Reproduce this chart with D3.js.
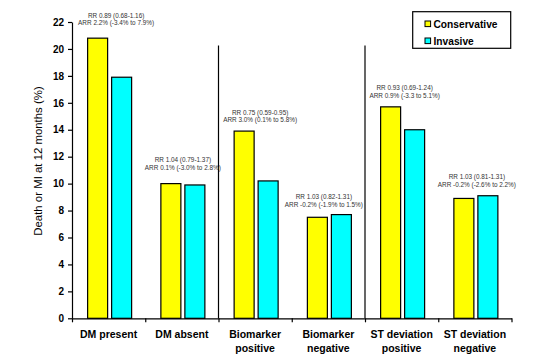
<!DOCTYPE html>
<html>
<head>
<meta charset="utf-8">
<script src="https://cdn.jsdelivr.net/npm/d3@7"></script>
<style>
  html, body { margin: 0; padding: 0; background: #fff; }
  svg { display: block; font-family: "Liberation Sans", Arial, sans-serif; }
</style>
</head>
<body>
<svg id="chart" width="543" height="360"></svg>
<script>
// ---- data ----
const categories = [
  ["DM present"],
  ["DM absent"],
  ["Biomarker", "positive"],
  ["Biomarker", "negative"],
  ["ST deviation", "positive"],
  ["ST deviation", "negative"]
];
const seriesNames = ["Conservative", "Invasive"];
const conservative = [20.8, 10.0, 13.9, 7.5, 15.7, 8.9];
const invasive = [17.9, 9.9, 10.2, 7.7, 14.0, 9.1];
const rrLabels = [
  "RR 0.89 (0.68-1.16)",
  "RR 1.04 (0.79-1.37)",
  "RR 0.75 (0.59-0.95)",
  "RR 1.03 (0.82-1.31)",
  "RR 0.93 (0.69-1.24)",
  "RR 1.03 (0.81-1.31)"
];
const arrLabels = [
  "ARR 2.2% (-3.4% to 7.9%)",
  "ARR 0.1% (-3.0% to 2.8%)",
  "ARR 3.0% (0.1% to 5.8%)",
  "ARR -0.2% (-1.9% to 1.5%)",
  "ARR 0.9% (-3.3 to 5.1%)",
  "ARR -0.2% (-2.6% to 2.2%)"
];
const yTicks = [0, 2, 4, 6, 8, 10, 12, 14, 16, 18, 20, 22];
const yTitle = "Death or MI at 12 months (%)";

// ---- layout ----
const colors = { "Conservative": "#ffff00", "Invasive": "#00ffff" };
const plotLeft = 72, plotRight = 511.5, plotTop = 22, plotBottom = 318.3;
const annotValue = [21.76, 11.03, 14.54, 8.28, 16.38, 9.78]; // label anchor heights (y units)
const annotShift = [7.5, 1, 5, -4.5, 3, 2];

const svg = d3.select("#chart");
const keys = categories.map((c, i) => i);
const x0 = d3.scaleBand().domain(keys).range([plotLeft, plotRight]).padding(0);
const y = d3.scaleLinear().domain([0, 22]).range([plotBottom, plotTop]);

const rows = keys.map(i => ({ i, values: [conservative[i], invasive[i]] }));

// bars
const g = svg.append("g");
rows.forEach(r => {
  const cx = x0(r.i) + x0.bandwidth() / 2 + 1;
  const x1 = d3.scaleBand().domain(seriesNames).range([cx - 22, cx + 22]).paddingInner(4 / 24);
  g.selectAll(null).data(seriesNames.map((s, k) => ({ s, v: r.values[k] })))
    .join("rect")
    .attr("x", d => x1(d.s))
    .attr("y", d => y(d.v))
    .attr("width", x1.bandwidth())
    .attr("height", d => y(0) - y(d.v))
    .attr("fill", d => colors[d.s])
    .attr("stroke", "#000")
    .attr("stroke-width", 1.2);
});

// separators between pairs of groups
[2, 4].forEach(i => {
  svg.append("line")
    .attr("x1", x0(i)).attr("x2", x0(i))
    .attr("y1", y(20.25)).attr("y2", y(0))
    .attr("stroke", "#000").attr("stroke-width", 1.2);
});

// y axis
const yAxis = d3.axisLeft(y).tickValues(yTicks).tickSize(4).tickSizeOuter(0).tickPadding(4);
const gy = svg.append("g").attr("transform", `translate(${plotLeft},0)`).call(yAxis);
gy.selectAll("text").attr("font-size", "10px").attr("font-weight", "bold")
  .attr("font-family", "Liberation Sans, Arial, sans-serif").attr("fill", "#000");
gy.selectAll("path, line").attr("stroke", "#000").attr("stroke-width", 1.2);

// x axis with boundary ticks
const xb = d3.scaleLinear().domain([0, categories.length]).range([plotLeft, plotRight]);
const xAxis = d3.axisBottom(xb).tickValues(d3.range(0, categories.length + 1)).tickSize(4).tickSizeOuter(0).tickFormat("");
const gx = svg.append("g").attr("transform", `translate(0,${plotBottom})`).call(xAxis);
gx.selectAll("path, line").attr("stroke", "#000").attr("stroke-width", 1.2);

// x labels
const xl = svg.append("g");
keys.forEach(i => {
  const t = xl.append("text")
    .attr("x", x0(i) + x0.bandwidth() / 2)
    .attr("y", 338)
    .attr("text-anchor", "middle")
    .attr("font-size", "10.5px")
    .attr("font-weight", "bold")
    .attr("fill", "#000");
  categories[i].forEach((line, k) => {
    t.append("tspan").attr("x", x0(i) + x0.bandwidth() / 2).attr("dy", k === 0 ? 0 : 14).text(line);
  });
});

// y title
svg.append("text")
  .attr("transform", "translate(42,161) rotate(-90)")
  .attr("text-anchor", "middle")
  .attr("font-size", "11.4px")
  .attr("fill", "#000")
  .text(yTitle);

// annotations
keys.forEach(i => {
  const cx = x0(i) + x0.bandwidth() / 2 + annotShift[i];
  const by = y(annotValue[i]);
  const t = svg.append("text")
    .attr("text-anchor", "middle")
    .attr("font-size", "6.4px")
    .attr("fill", "#333");
  t.append("tspan").attr("x", cx).attr("y", by - 7.6).text(rrLabels[i]);
  t.append("tspan").attr("x", cx).attr("y", by).text(arrLabels[i]);
});

// legend
const lg = svg.append("g");
lg.append("rect").attr("x", 412.7).attr("y", 11.7).attr("width", 98).attr("height", 36.6)
  .attr("fill", "#fff").attr("stroke", "#000").attr("stroke-width", 1.2);
seriesNames.forEach((s, k) => {
  const cy = 24 + k * 17;
  lg.append("rect").attr("x", 425).attr("y", cy - 3).attr("width", 5.6).attr("height", 5.6)
    .attr("fill", colors[s]).attr("stroke", "#000").attr("stroke-width", 1);
  lg.append("text").attr("x", 433.5).attr("y", cy + 3.8)
    .attr("font-size", "10.2px").attr("font-weight", "bold").attr("fill", "#000")
    .text(s);
});
</script>
</body>
</html>
